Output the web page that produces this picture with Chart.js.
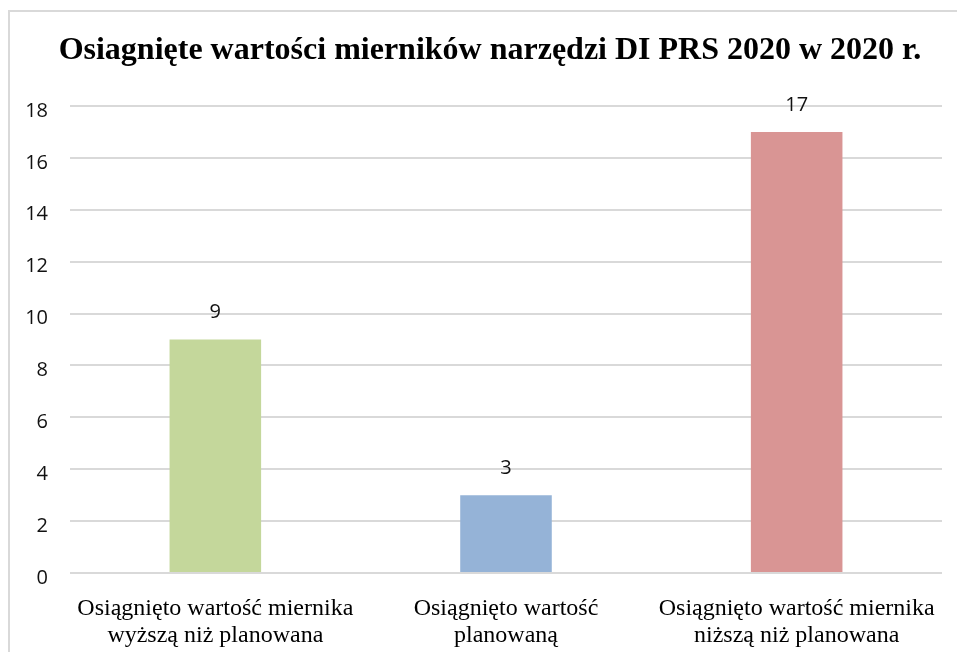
<!DOCTYPE html>
<html>
<head>
<meta charset="utf-8">
<script src="https://cdn.jsdelivr.net/npm/chart.js@4/dist/chart.umd.min.js"></script>
<style>
  html, body { margin: 0; padding: 0; background: #fff; }
  #wrap { position: relative; width: 957px; height: 652px; overflow: hidden; }
  #ramka { position: absolute; left: 8px; top: 10px; width: 1000px; height: 700px; border: 2px solid #d9d9d9; box-sizing: border-box; }
  canvas { position: absolute; left: 0; top: 0; }
</style>
</head>
<body>
<div id="wrap">
  <div id="ramka"></div>
  <canvas id="wykres" width="957" height="652"></canvas>
</div>
<script>
// Dane wykresu
const kategorie = [
    ['Osiągnięto wartość miernika', 'wyższą niż planowana'],
    ['Osiągnięto wartość', 'planowaną'],
    ['Osiągnięto wartość miernika', 'niższą niż planowana']
];
const wartosci = [9, 3, 17];
const kolory = ['#c4d79b', '#95b3d7', '#d99594'];
const tytul = 'Osiagnięte wartości mierników narzędzi DI PRS 2020 w 2020 r.';
const osY = { min: 0, max: 18, krok: 2 };

// Tytuł wykresu (trochę przesunięty w prawo, jak w oryginale)
const tytulPlugin = {
    id: 'tytul',
    afterDraw(chart) {
        const ctx = chart.ctx;
        ctx.save();
        ctx.font = 'bold 32px "Liberation Serif", "Times New Roman", serif';
        ctx.fillStyle = '#000';
        ctx.textAlign = 'center';
        ctx.textBaseline = 'alphabetic';
        ctx.fillText(tytul, 490, 59);
        ctx.restore();
    }
};

// Etykiety wartości nad słupkami
const etykietyPlugin = {
    id: 'etykiety',
    afterDatasetsDraw(chart) {
        const ctx = chart.ctx;
        const meta = chart.getDatasetMeta(0);
        ctx.save();
        ctx.font = '20px "Open Sans", "Liberation Sans", sans-serif';
        ctx.fillStyle = '#111';
        ctx.textAlign = 'center';
        ctx.textBaseline = 'middle';
        meta.data.forEach(function (bar, i) {
            ctx.fillText(String(wartosci[i]), bar.x, bar.y - 27);
        });
        ctx.restore();
    }
};

const ctx = document.getElementById('wykres').getContext('2d');
new Chart(ctx, {
    type: 'bar',
    data: {
        labels: kategorie,
        datasets: [{
            data: wartosci,
            backgroundColor: kolory,
            borderWidth: 0,
            barPercentage: 0.63,
            categoryPercentage: 0.5
        }]
    },
    options: {
        responsive: false,
        animation: false,
        layout: { padding: { left: 0, right: 15, top: 106, bottom: 0 } },
        plugins: {
            legend: { display: false },
            tooltip: { enabled: false },
            title: { display: false }
        },
        scales: {
            x: {
                grid: { display: false },
                border: { display: false },
                ticks: {
                    color: '#000',
                    font: { family: '"Liberation Serif", "Times New Roman", serif', size: 24, lineHeight: 1.1 },
                    padding: 15,
                    maxRotation: 0,
                    autoSkip: false
                },
                afterFit(scale) { scale.height = 652 - 573; }
            },
            y: {
                min: osY.min,
                max: osY.max,
                ticks: {
                    stepSize: osY.krok,
                    color: '#111',
                    font: { family: '"Open Sans", "Liberation Sans", sans-serif', size: 20, lineHeight: 0.5 },
                    padding: 22,
                    // pusta pierwsza linia przesuwa liczbę lekko w dół, jak w oryginale
                    callback: function (v) { return ['', String(v)]; }
                },
                grid: { color: '#d9d9d9', lineWidth: 2, drawTicks: false },
                border: { display: false },
                afterFit(scale) { scale.width = 70; }
            }
        }
    },
    plugins: [tytulPlugin, etykietyPlugin]
});
</script>
</body>
</html>
